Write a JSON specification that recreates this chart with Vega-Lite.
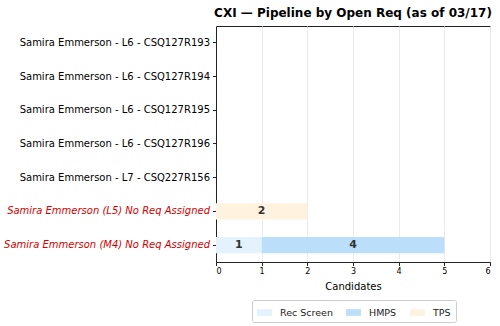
{
  "$schema": "https://vega.github.io/schema/vega-lite/v6.json",
  "width": 274,
  "height": 236,
  "autosize": "none",
  "padding": {"left": 216, "top": 26, "right": 10, "bottom": 64},
  "background": "white",
  "title": {
    "text": "CXI — Pipeline by Open Req (as of 03/17)",
    "font": "DejaVu Sans",
    "fontSize": 12,
    "fontWeight": "bold",
    "color": "black",
    "anchor": "middle",
    "offset": 6
  },
  "config": {
    "font": "DejaVu Sans",
    "view": {"stroke": "#222", "strokeWidth": 1}
  },
  "data": {
    "values": [
      {"req": "Samira Emmerson (L5) No Req Assigned", "stage": "TPS", "count": 2},
      {"req": "Samira Emmerson (M4) No Req Assigned", "stage": "Rec Screen", "count": 1},
      {"req": "Samira Emmerson (M4) No Req Assigned", "stage": "HMPS", "count": 4}
    ]
  },
  "transform": [
    {"calculate": "indexof(['Rec Screen','HMPS','TPS'], datum.stage)", "as": "ord"},
    {"stack": "count", "groupby": ["req"], "sort": [{"field": "ord", "order": "ascending"}], "as": ["x0", "x1"]},
    {"calculate": "(datum.x0 + datum.x1) / 2", "as": "xm"}
  ],
  "encoding": {
    "y": {
      "field": "req",
      "type": "nominal",
      "scale": {
        "domain": [
          "Samira Emmerson - L6 - CSQ127R193",
          "Samira Emmerson - L6 - CSQ127R194",
          "Samira Emmerson - L6 - CSQ127R195",
          "Samira Emmerson - L6 - CSQ127R196",
          "Samira Emmerson - L7 - CSQ227R156",
          "Samira Emmerson (L5) No Req Assigned",
          "Samira Emmerson (M4) No Req Assigned"
        ],
        "paddingInner": 0.52,
        "paddingOuter": 0.26
      },
      "axis": {
        "title": null,
        "labelFontSize": 10,
        "labelColor": {"condition": {"test": "indexof(datum.value, 'No Req') >= 0", "value": "#d40000"}, "value": "black"},
        "labelFontStyle": {"condition": {"test": "indexof(datum.value, 'No Req') >= 0", "value": "italic"}, "value": "normal"},
        "labelLimit": 300,
        "labelPadding": 3,
        "tickSize": 3.5,
        "tickColor": "#222",
        "domainColor": "#222",
        "grid": false
      }
    }
  },
  "layer": [
    {
      "mark": {"type": "bar"},
      "encoding": {
        "x": {
          "field": "x0",
          "type": "quantitative",
          "scale": {"domain": [0, 6], "nice": false},
          "axis": {
            "title": "Candidates",
            "titleFontSize": 10,
            "titleFontWeight": "normal",
            "titleColor": "black",
            "titlePadding": 6,
            "values": [0, 1, 2, 3, 4, 5, 6],
            "labelFontSize": 8,
            "labelColor": "black",
            "tickSize": 3.5,
            "tickColor": "#222",
            "domainColor": "#222",
            "grid": true,
            "gridColor": "#ebebeb",
            "gridWidth": 1
          }
        },
        "x2": {"field": "x1"},
        "color": {
          "field": "stage",
          "type": "nominal",
          "scale": {"domain": ["Rec Screen", "HMPS", "TPS"], "range": ["#e3f2fd", "#bbdefb", "#fff3e0"]},
          "legend": {
            "title": null,
            "orient": "none",
            "direction": "horizontal",
            "legendX": 36,
            "legendY": 274,
            "labelFontSize": 9.5,
            "labelColor": "#222",
            "symbolType": "M-1,-0.45H1V0.45H-1Z",
            "symbolSize": 220,
            "symbolStrokeWidth": 0,
            "columnPadding": 13,
            "labelOffset": 8,
            "padding": 5,
            "strokeColor": "#cccccc",
            "cornerRadius": 2,
            "fillColor": "white"
          }
        }
      }
    },
    {
      "mark": {"type": "text", "fontWeight": "bold", "fontSize": 11, "color": "#333"},
      "encoding": {
        "x": {"field": "xm", "type": "quantitative"},
        "text": {"field": "count", "type": "quantitative"}
      }
    }
  ]
}
